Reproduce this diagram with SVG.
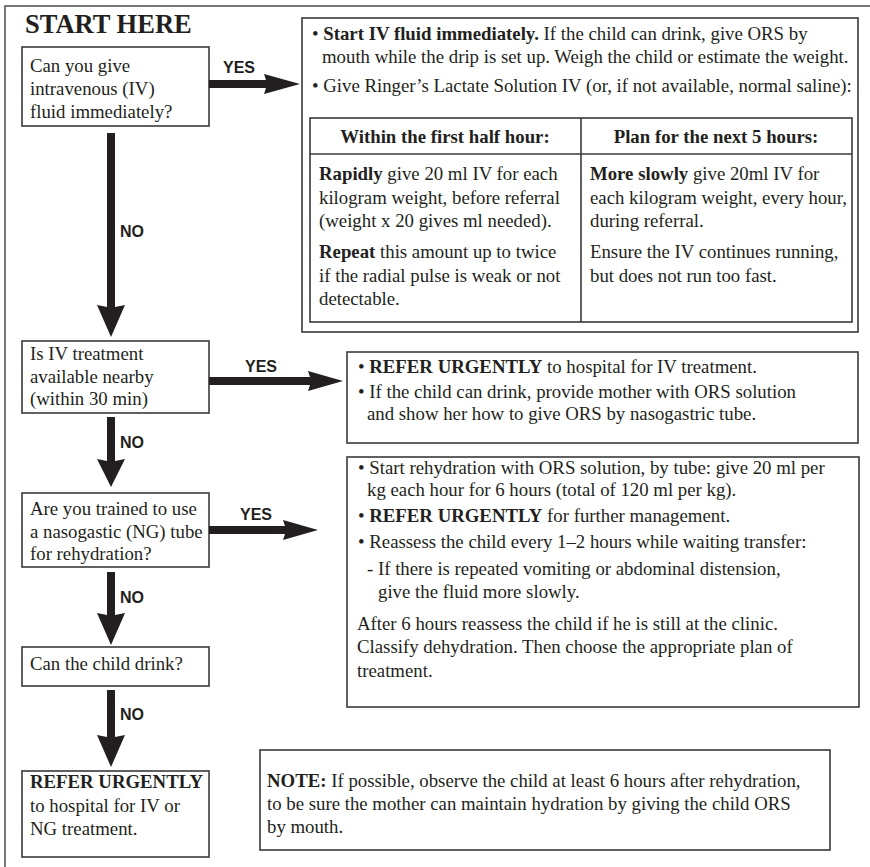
<svg xmlns="http://www.w3.org/2000/svg" width="870" height="867" viewBox="0 0 870 867">
<style>
.box{fill:#fff;stroke:#3a3a3a;stroke-width:1.6}
.frame{fill:none;stroke:#555;stroke-width:1.6}
.t{font-family:"Liberation Serif","Times New Roman",serif;font-size:18.8px;fill:#231f20}
.b{font-weight:bold}
.lab{font-family:"Liberation Sans",Arial,sans-serif;font-weight:bold;font-size:16px;fill:#231f20}
.arr{fill:#231f20}
</style>
<rect width="870" height="867" fill="#fff"/>
<rect class="frame" x="5" y="6" width="900" height="900"/>
<text class="t b" x="25" y="33" style="font-size:26.5px">START HERE</text>

<g id="q1">
<rect class="box" x="22" y="47" width="187" height="79"/>
<text class="t" x="30" y="72">Can you give</text>
<text class="t" x="30" y="95">intravenous (IV)</text>
<text class="t" x="30" y="118">fluid immediately?</text>
</g>

<g id="ivbox">
<rect class="box" x="302" y="18" width="556" height="314"/>
<text class="t" x="312" y="40">• <tspan class="b">Start IV fluid immediately.</tspan> If the child can drink, give ORS by</text>
<text class="t" x="322" y="63">mouth while the drip is set up. Weigh the child or estimate the weight.</text>
<text class="t" x="312" y="92">• Give Ringer’s Lactate Solution IV (or, if not available, normal saline):</text>
<rect class="box" x="310" y="118" width="542" height="204"/>
<line x1="310" y1="154" x2="852" y2="154" stroke="#3a3a3a" stroke-width="1.6"/>
<line x1="581" y1="118" x2="581" y2="322" stroke="#3a3a3a" stroke-width="1.6"/>
<text class="t b" x="445" y="143" text-anchor="middle">Within the first half hour:</text>
<text class="t b" x="716" y="143" text-anchor="middle">Plan for the next 5 hours:</text>
<text class="t" x="319" y="180"><tspan class="b">Rapidly</tspan> give 20 ml IV for each</text>
<text class="t" x="319" y="203.5">kilogram weight, before referral</text>
<text class="t" x="319" y="227">(weight x 20 gives ml needed).</text>
<text class="t" x="319" y="258"><tspan class="b">Repeat</tspan> this amount up to twice</text>
<text class="t" x="319" y="281.5">if the radial pulse is weak or not</text>
<text class="t" x="319" y="305">detectable.</text>
<text class="t" x="590" y="180"><tspan class="b">More slowly</tspan> give 20ml IV for</text>
<text class="t" x="590" y="203.5">each kilogram weight, every hour,</text>
<text class="t" x="590" y="227">during referral.</text>
<text class="t" x="590" y="258">Ensure the IV continues running,</text>
<text class="t" x="590" y="281.5">but does not run too fast.</text>
</g>

<g id="q2">
<rect class="box" x="22" y="341" width="187" height="72"/>
<text class="t" x="30" y="360">Is IV treatment</text>
<text class="t" x="30" y="383">available nearby</text>
<text class="t" x="30" y="405">(within 30 min)</text>
</g>

<g id="refer1">
<rect class="box" x="347" y="352" width="511" height="91"/>
<text class="t" x="358" y="373">• <tspan class="b">REFER URGENTLY</tspan> to hospital for IV treatment.</text>
<text class="t" x="358" y="398">• If the child can drink, provide mother with ORS solution</text>
<text class="t" x="367" y="420">and show her how to give ORS by nasogastric tube.</text>
</g>

<g id="q3">
<rect class="box" x="22" y="493" width="187" height="74"/>
<text class="t" x="30" y="515">Are you trained to use</text>
<text class="t" x="30" y="537.5">a nasogastic (NG) tube</text>
<text class="t" x="30" y="560">for rehydration?</text>
</g>

<g id="ngbox">
<rect class="box" x="347" y="457" width="512" height="250"/>
<text class="t" x="358" y="474">• Start rehydration with ORS solution, by tube: give 20 ml per</text>
<text class="t" x="367" y="496">kg each hour for 6 hours (total of 120 ml per kg).</text>
<text class="t" x="358" y="522">• <tspan class="b">REFER URGENTLY</tspan> for further management.</text>
<text class="t" x="358" y="548">• Reassess the child every 1–2 hours while waiting transfer:</text>
<text class="t" x="367" y="575">- If there is repeated vomiting or abdominal distension,</text>
<text class="t" x="378" y="598">give the fluid more slowly.</text>
<text class="t" x="357" y="630">After 6 hours reassess the child if he is still at the clinic.</text>
<text class="t" x="357" y="653">Classify dehydration. Then choose the appropriate plan of</text>
<text class="t" x="357" y="677">treatment.</text>
</g>

<g id="q4">
<rect class="box" x="22" y="647" width="187" height="39"/>
<text class="t" x="30" y="670">Can the child drink?</text>
</g>

<g id="refer2">
<rect class="box" x="22" y="771" width="187" height="86"/>
<text class="t b" x="30" y="788">REFER URGENTLY</text>
<text class="t" x="30" y="812">to hospital for IV or</text>
<text class="t" x="30" y="835">NG treatment.</text>
</g>

<g id="note">
<rect class="box" x="260" y="750" width="570" height="100"/>
<text class="t" x="267" y="787"><tspan class="b">NOTE:</tspan> If possible, observe the child at least 6 hours after rehydration,</text>
<text class="t" x="267" y="810">to be sure the mother can maintain hydration by giving the child ORS</text>
<text class="t" x="267" y="833">by mouth.</text>
</g>

<g id="connectors">
<polygon class="arr" points="209,80 266,80 264,74 300,84 264,94 266,88 209,88"/>
<text class="lab" x="223" y="73">YES</text>
<polygon class="arr" points="209,377 310,377 308,371 343,381 308,391 310,385 209,385"/>
<text class="lab" x="245" y="372">YES</text>
<polygon class="arr" points="209,526 285,526 283,520 318,530 283,540 285,534 209,534"/>
<text class="lab" x="240" y="520">YES</text>
<polygon class="arr" points="107,133 115,133 115,307 125,305 111,337 97,305 107,307"/>
<text class="lab" x="120" y="237">NO</text>
<polygon class="arr" points="107,417 115,417 115,461 125,459 111,487 97,459 107,461"/>
<text class="lab" x="120" y="448">NO</text>
<polygon class="arr" points="107,572 115,572 115,615 125,613 111,645 97,613 107,615"/>
<text class="lab" x="120" y="603">NO</text>
<polygon class="arr" points="107,690 115,690 115,737 125,735 111,767 97,735 107,737"/>
<text class="lab" x="120" y="720">NO</text>
</g>
</svg>
